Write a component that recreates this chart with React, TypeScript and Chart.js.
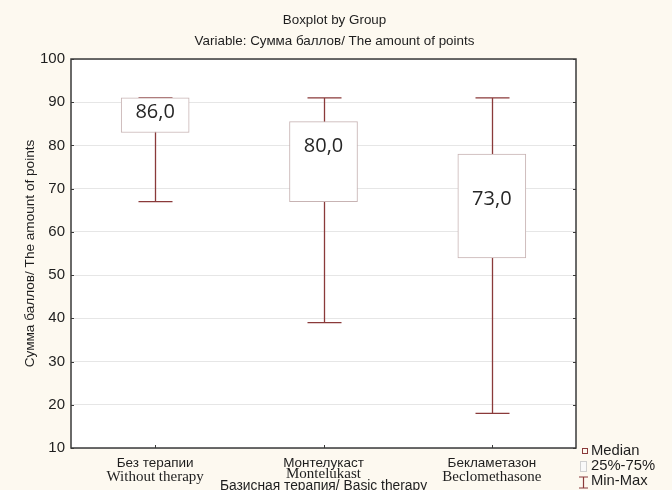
import React, { useEffect, useRef } from "react";
import { Chart, registerables } from "chart.js";

Chart.register(...registerables);

const categoriesRu = ["Без терапии", "Монтелукаст", "Бекламетазон"];
const categoriesEn = ["Without therapy", "Montelukast", "Beclomethasone"];
const minValues = [67, 39, 18];
const q1Values = [83, 67, 54];
const medianValues = [86, 80, 73];
const q3Values = [91, 85.5, 78];
const maxValues = [91, 91, 91];
const medianLabels = ["86,0", "80,0", "73,0"];
const yTicks = [10, 20, 30, 40, 50, 60, 70, 80, 90, 100];

const titleLines = ["Boxplot by Group", "Variable: Сумма баллов/ The amount of points"];
const yTitle = "Сумма баллов/ The amount of points";
const xTitle = "Базисная терапия/ Basic therapy";
const legendItems = ["Median", "25%-75%", "Min-Max"];

const WHISKER = "#8a3a3a";
const BOX_BORDER = "#c7b3b3";
const BG = "#fdf9f0";
const SANS = "'Liberation Sans', Arial, sans-serif";
const SERIF = "'Liberation Serif', 'Times New Roman', serif";

const labelOffsetPx = [-7, 1, 24];

const customPlugin = {
  id: "custom",
  beforeDraw(chart: any) {
    const { ctx, width, height, chartArea } = chart;
    ctx.save();
    ctx.fillStyle = BG;
    ctx.fillRect(0, 0, width, height);
    ctx.fillStyle = "#ffffff";
    ctx.fillRect(chartArea.left, chartArea.top, chartArea.right - chartArea.left, chartArea.bottom - chartArea.top);
    ctx.restore();
  },
  beforeDatasetsDraw(chart: any) {
    const { ctx } = chart;
    const x = chart.scales.x;
    const y = chart.scales.y;
    ctx.save();
    ctx.strokeStyle = WHISKER;
    ctx.lineWidth = 1.3;
    categoriesRu.forEach((_, i) => {
      const cx = Math.round(x.getPixelForValue(i)) + 0.5;
      const yMin = y.getPixelForValue(minValues[i]);
      const yMax = y.getPixelForValue(maxValues[i]);
      ctx.beginPath();
      ctx.moveTo(cx, yMax);
      ctx.lineTo(cx, yMin);
      ctx.moveTo(cx - 17, yMax);
      ctx.lineTo(cx + 17, yMax);
      ctx.moveTo(cx - 17, yMin);
      ctx.lineTo(cx + 17, yMin);
      ctx.stroke();
    });
    ctx.restore();
  },
  afterDatasetsDraw(chart: any) {
    const { ctx, chartArea } = chart;
    const x = chart.scales.x;
    const y = chart.scales.y;
    ctx.save();
    // median labels
    ctx.fillStyle = "#262626";
    ctx.font = "20px 'Open Sans', 'Noto Sans', sans-serif";
    ctx.textAlign = "center";
    ctx.textBaseline = "middle";
    medianLabels.forEach((t, i) => {
      const cx = x.getPixelForValue(i);
      const my = y.getPixelForValue(medianValues[i]) + labelOffsetPx[i];
      ctx.fillText(t, cx, my);
    });

    // frame
    ctx.strokeStyle = "#3a3a3a";
    ctx.lineWidth = 1.5;
    ctx.strokeRect(chartArea.left, chartArea.top, chartArea.right - chartArea.left, chartArea.bottom - chartArea.top);
    // inner ticks
    ctx.lineWidth = 1;
    ctx.beginPath();
    yTicks.forEach((v) => {
      const py = Math.round(y.getPixelForValue(v)) + 0.5;
      ctx.moveTo(chartArea.left, py);
      ctx.lineTo(chartArea.left + 3, py);
      ctx.moveTo(chartArea.right, py);
      ctx.lineTo(chartArea.right - 3, py);
    });
    categoriesRu.forEach((_, i) => {
      const px = Math.round(x.getPixelForValue(i)) + 0.5;
      ctx.moveTo(px, chartArea.bottom);
      ctx.lineTo(px, chartArea.bottom - 3);
    });
    ctx.stroke();

    // titles
    ctx.fillStyle = "#1e1e1e";
    ctx.font = "13.4px " + SANS;
    ctx.textAlign = "center";
    ctx.textBaseline = "middle";
    const midX = (chartArea.left + chartArea.right) / 2 + 11;
    ctx.fillText(titleLines[0], midX, 20);
    ctx.fillText(titleLines[1], midX, 41);

    // y title
    ctx.save();
    ctx.font = "13.6px " + SANS;
    ctx.translate(30, (chartArea.top + chartArea.bottom) / 2);
    ctx.rotate(-Math.PI / 2);
    ctx.fillText(yTitle, 0, 0);
    ctx.restore();

    // x category labels
    categoriesRu.forEach((t, i) => {
      const cx = x.getPixelForValue(i);
      ctx.font = "13.5px " + SANS;
      ctx.fillText(t, cx, 463);
      ctx.font = "15px " + SERIF;
      ctx.fillText(categoriesEn[i], cx, i === 1 ? 474 : 477);
    });
    ctx.font = "13.8px " + SANS;
    ctx.fillText(xTitle, (chartArea.left + chartArea.right) / 2, 486);

    // legend
    ctx.textAlign = "left";
    ctx.font = "14.8px " + SANS;
    ctx.strokeStyle = WHISKER;
    ctx.lineWidth = 1;
    ctx.strokeRect(582.5, 448.5, 5, 5);
    ctx.fillText(legendItems[0], 591, 451);
    ctx.fillStyle = "#f9f9f9";
    ctx.fillRect(580, 461, 7, 10);
    ctx.strokeStyle = "#d0d0d0";
    ctx.strokeRect(580.5, 461.5, 6, 10);
    ctx.fillStyle = "#1e1e1e";
    ctx.fillText(legendItems[1], 591, 466);
    ctx.strokeStyle = WHISKER;
    ctx.lineWidth = 1.2;
    ctx.beginPath();
    ctx.moveTo(579, 477);
    ctx.lineTo(588, 477);
    ctx.moveTo(583.5, 477);
    ctx.lineTo(583.5, 488);
    ctx.moveTo(579, 488);
    ctx.lineTo(588, 488);
    ctx.stroke();
    ctx.fillText(legendItems[2], 591, 481);
    ctx.restore();
  },
};

export default function App() {
  const ref = useRef<HTMLCanvasElement | null>(null);
  useEffect(() => {
    document.body.style.margin = "0";
    const canvas = ref.current;
    if (!canvas) return;
    const chart = new Chart(canvas, {
      type: "bar",
      data: {
        labels: categoriesRu,
        datasets: [
          {
            data: q1Values.map((q, i) => [q, q3Values[i]]) as any,
            backgroundColor: "#ffffff",
            borderColor: BOX_BORDER,
            borderWidth: 1,
            borderSkipped: false,
            barThickness: 68,
          },
        ],
      },
      options: {
        animation: false,
        responsive: false,
        maintainAspectRatio: false,
        layout: { padding: { top: 59, right: 96, left: 0, bottom: 0 } },
        plugins: { legend: { display: false }, tooltip: { enabled: false }, title: { display: false } },
        scales: {
          x: {
            type: "category",
            offset: true,
            grid: { display: false },
            border: { display: false },
            ticks: { display: false },
            afterFit: (s: any) => {
              s.height = 42;
            },
          },
          y: {
            min: 10,
            max: 100,
            ticks: {
              stepSize: 10,
              color: "#1e1e1e",
              font: { family: SANS, size: 15 },
              padding: 6,
            },
            grid: { color: "#e6e6e6", drawTicks: false, lineWidth: 1 },
            border: { display: false },
            afterFit: (s: any) => {
              s.width = 71;
            },
          },
        },
      },
      plugins: [customPlugin],
    });
    return () => chart.destroy();
  }, []);
  return <canvas ref={ref} width={672} height={490} style={{ display: "block" }} />;
}
